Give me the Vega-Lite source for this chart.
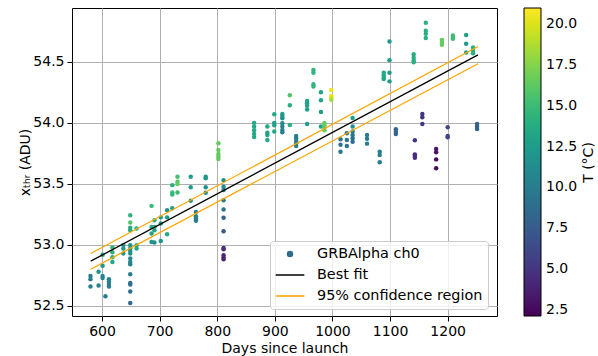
{
  "$schema": "https://vega.github.io/schema/vega-lite/v6.json",
  "width": 425,
  "height": 308,
  "autosize": {"type": "none"},
  "padding": {"left": 72, "top": 8, "right": 101, "bottom": 40},
  "background": "white",
  "config": {
    "font": "DejaVu Sans",
    "view": {"stroke": "black", "strokeWidth": 1},
    "axis": {
      "labelFontSize": 14, "titleFontSize": 14, "titleFontWeight": "normal",
      "labelColor": "black", "titleColor": "black", "tickColor": "black",
      "tickSize": 5, "tickWidth": 1, "gridColor": "#b0b0b0", "gridWidth": 1,
      "domain": false, "labelPadding": 3, "labelFlush": false
    }
  },
  "resolve": {"axis": {"y": "independent"}},
  "datasets": {
    "pts": [
      {"day":580,"xthr":52.745,"T":10},{"day":580,"xthr":52.72,"T":10},{"day":580,"xthr":52.66,"T":10},
      {"day":594,"xthr":52.78,"T":11.5},{"day":594,"xthr":52.667,"T":10.5},
      {"day":601,"xthr":52.92,"T":13},{"day":601,"xthr":52.83,"T":12},{"day":601,"xthr":52.745,"T":10.5},{"day":601,"xthr":52.73,"T":10.5},
      {"day":606,"xthr":52.58,"T":10},
      {"day":612,"xthr":52.72,"T":10.5},{"day":612,"xthr":52.70,"T":10.5},{"day":612,"xthr":52.68,"T":10},{"day":612,"xthr":52.66,"T":10},
      {"day":618,"xthr":52.98,"T":14.5},{"day":618,"xthr":52.94,"T":14},{"day":618,"xthr":52.90,"T":14},{"day":618,"xthr":52.86,"T":13.5},
      {"day":637,"xthr":53.00,"T":12},{"day":637,"xthr":52.97,"T":12},{"day":637,"xthr":52.93,"T":12},
      {"day":649,"xthr":53.244,"T":14.5},{"day":649,"xthr":53.184,"T":16},{"day":649,"xthr":53.14,"T":14},{"day":649,"xthr":53.121,"T":13.5},
      {"day":649,"xthr":52.998,"T":12},{"day":649,"xthr":52.971,"T":12},{"day":649,"xthr":52.951,"T":11.5},{"day":649,"xthr":52.93,"T":11.5},
      {"day":649,"xthr":52.889,"T":11},{"day":649,"xthr":52.861,"T":11},{"day":649,"xthr":52.842,"T":10.5},{"day":649,"xthr":52.76,"T":10},
      {"day":649,"xthr":52.689,"T":9},{"day":649,"xthr":52.676,"T":9},{"day":649,"xthr":52.618,"T":9},{"day":649,"xthr":52.525,"T":8.5},
      {"day":660,"xthr":53.135,"T":14},{"day":660,"xthr":52.998,"T":14},{"day":660,"xthr":52.971,"T":13.5},
      {"day":686,"xthr":53.32,"T":15},{"day":686,"xthr":53.148,"T":13.5},{"day":686,"xthr":53.094,"T":13},{"day":686,"xthr":53.025,"T":12},
      {"day":691,"xthr":53.203,"T":14},{"day":691,"xthr":53.148,"T":13.5},{"day":691,"xthr":53.121,"T":13},{"day":691,"xthr":53.02,"T":11.5},
      {"day":702,"xthr":53.226,"T":12.5},{"day":702,"xthr":53.176,"T":12.5},{"day":702,"xthr":53.033,"T":12},
      {"day":713,"xthr":53.285,"T":11.5},{"day":713,"xthr":53.226,"T":12},{"day":713,"xthr":53.088,"T":13.5},
      {"day":722,"xthr":53.49,"T":14},{"day":722,"xthr":53.43,"T":15},{"day":722,"xthr":53.414,"T":14.5},{"day":722,"xthr":53.30,"T":12.5},
      {"day":731,"xthr":53.559,"T":15.5},{"day":731,"xthr":53.518,"T":16},{"day":731,"xthr":53.499,"T":16.5},{"day":731,"xthr":53.43,"T":15},
      {"day":754,"xthr":53.559,"T":12.5},{"day":754,"xthr":53.472,"T":12.5},{"day":754,"xthr":53.362,"T":12},
      {"day":763,"xthr":53.27,"T":10},{"day":763,"xthr":53.236,"T":10},{"day":763,"xthr":53.217,"T":10},{"day":763,"xthr":53.198,"T":10},
      {"day":780,"xthr":53.559,"T":12},{"day":780,"xthr":53.546,"T":12},{"day":780,"xthr":53.472,"T":11.5},{"day":780,"xthr":53.428,"T":11.5},
      {"day":802,"xthr":53.833,"T":16.5},{"day":802,"xthr":53.778,"T":16.5},{"day":802,"xthr":53.745,"T":16.5},{"day":802,"xthr":53.723,"T":16.5},{"day":802,"xthr":53.704,"T":16.5},
      {"day":811,"xthr":53.53,"T":11.5},{"day":811,"xthr":53.477,"T":11},{"day":811,"xthr":53.45,"T":10.5},{"day":811,"xthr":53.367,"T":10},
      {"day":811,"xthr":53.29,"T":9.5},{"day":811,"xthr":53.222,"T":8},{"day":811,"xthr":53.113,"T":7},{"day":811,"xthr":52.976,"T":4.5},
      {"day":811,"xthr":52.965,"T":4.5},{"day":811,"xthr":52.916,"T":4},{"day":811,"xthr":52.897,"T":4},{"day":811,"xthr":52.883,"T":4},
      {"day":864,"xthr":54.0,"T":13.5},{"day":864,"xthr":53.97,"T":13.5},{"day":864,"xthr":53.94,"T":13.5},{"day":864,"xthr":53.91,"T":13.5},{"day":864,"xthr":53.885,"T":13.5},
      {"day":887,"xthr":53.97,"T":13.5},{"day":887,"xthr":53.92,"T":13},{"day":887,"xthr":53.90,"T":13},{"day":887,"xthr":53.86,"T":13.5},
      {"day":899,"xthr":54.07,"T":13.5},{"day":899,"xthr":54.0,"T":13},{"day":899,"xthr":53.98,"T":13},{"day":899,"xthr":53.93,"T":13.5},
      {"day":913,"xthr":54.073,"T":13},{"day":913,"xthr":54.057,"T":12},{"day":913,"xthr":54.038,"T":11.5},{"day":913,"xthr":53.997,"T":11},
      {"day":913,"xthr":53.97,"T":10.5},{"day":913,"xthr":53.942,"T":10.5},{"day":913,"xthr":53.923,"T":10},
      {"day":926,"xthr":54.227,"T":16},{"day":926,"xthr":54.145,"T":14},{"day":926,"xthr":53.983,"T":14},
      {"day":937,"xthr":53.893,"T":10},{"day":937,"xthr":53.874,"T":10},{"day":937,"xthr":53.852,"T":10},{"day":937,"xthr":53.833,"T":10},{"day":937,"xthr":53.811,"T":10},
      {"day":956,"xthr":54.18,"T":13},{"day":956,"xthr":54.16,"T":13},{"day":956,"xthr":54.14,"T":13},{"day":956,"xthr":54.11,"T":13},{"day":956,"xthr":53.99,"T":12.5},
      {"day":967,"xthr":54.434,"T":14.5},{"day":967,"xthr":54.41,"T":14.5},{"day":967,"xthr":54.317,"T":14.5},{"day":967,"xthr":54.297,"T":14.5},
      {"day":980,"xthr":54.25,"T":13},{"day":980,"xthr":54.186,"T":13},{"day":980,"xthr":54.09,"T":12.5},{"day":980,"xthr":53.97,"T":13},
      {"day":986,"xthr":54.0,"T":16.5},{"day":986,"xthr":53.98,"T":16.5},{"day":986,"xthr":53.96,"T":16.5},{"day":986,"xthr":53.94,"T":16.5},
      {"day":998,"xthr":54.27,"T":20.5},{"day":998,"xthr":54.22,"T":20.5},{"day":998,"xthr":54.21,"T":20},{"day":998,"xthr":54.19,"T":18.5},
      {"day":1014,"xthr":53.866,"T":9.5},{"day":1014,"xthr":53.82,"T":9.5},{"day":1014,"xthr":53.764,"T":9.5},
      {"day":1025,"xthr":53.915,"T":9.5},{"day":1025,"xthr":53.86,"T":9.5},{"day":1025,"xthr":53.81,"T":9.5},
      {"day":1035,"xthr":54.04,"T":13},{"day":1035,"xthr":53.97,"T":11.5},{"day":1035,"xthr":53.93,"T":10},{"day":1035,"xthr":53.90,"T":9.5},{"day":1035,"xthr":53.874,"T":9},{"day":1035,"xthr":53.846,"T":9},
      {"day":1060,"xthr":53.90,"T":10},{"day":1060,"xthr":53.87,"T":10},{"day":1060,"xthr":53.83,"T":10},
      {"day":1082,"xthr":53.764,"T":10},{"day":1082,"xthr":53.737,"T":10},{"day":1082,"xthr":53.677,"T":10},
      {"day":1089,"xthr":54.41,"T":13.5},{"day":1089,"xthr":54.39,"T":13.5},{"day":1089,"xthr":54.37,"T":13.5},{"day":1089,"xthr":54.36,"T":13.5},
      {"day":1099,"xthr":54.667,"T":12.5},{"day":1099,"xthr":54.514,"T":12.5},{"day":1099,"xthr":54.41,"T":12.5},{"day":1099,"xthr":54.34,"T":12.5},
      {"day":1110,"xthr":53.948,"T":8},{"day":1110,"xthr":53.928,"T":8},{"day":1110,"xthr":53.909,"T":8},
      {"day":1141,"xthr":54.563,"T":14},{"day":1141,"xthr":54.534,"T":14},{"day":1141,"xthr":54.51,"T":14},{"day":1141,"xthr":54.497,"T":14},
      {"day":1143,"xthr":53.857,"T":5},{"day":1143,"xthr":53.742,"T":4.5},{"day":1143,"xthr":53.729,"T":4.5},{"day":1143,"xthr":53.715,"T":4.5},
      {"day":1156,"xthr":54.073,"T":5},{"day":1156,"xthr":54.046,"T":5},{"day":1156,"xthr":53.99,"T":5},
      {"day":1162,"xthr":54.82,"T":14},{"day":1162,"xthr":54.755,"T":14},{"day":1162,"xthr":54.73,"T":14},{"day":1162,"xthr":54.695,"T":14},
      {"day":1180,"xthr":53.786,"T":3},{"day":1180,"xthr":53.759,"T":3},{"day":1180,"xthr":53.701,"T":2.5},{"day":1180,"xthr":53.628,"T":2.5},
      {"day":1190,"xthr":54.68,"T":16.5},{"day":1190,"xthr":54.66,"T":16.5},{"day":1190,"xthr":54.64,"T":16.5},
      {"day":1200,"xthr":53.964,"T":6},{"day":1200,"xthr":53.893,"T":6},{"day":1200,"xthr":53.882,"T":6},
      {"day":1209,"xthr":54.716,"T":15},{"day":1209,"xthr":54.70,"T":15},{"day":1209,"xthr":54.69,"T":15},
      {"day":1232,"xthr":54.72,"T":13},{"day":1232,"xthr":54.648,"T":12.5},{"day":1232,"xthr":54.576,"T":13},
      {"day":1244,"xthr":54.617,"T":14},{"day":1244,"xthr":54.59,"T":14},{"day":1244,"xthr":54.57,"T":14},
      {"day":1251,"xthr":53.99,"T":8},{"day":1251,"xthr":53.97,"T":8},{"day":1251,"xthr":53.95,"T":8}
    ],
    "fit": [
      {"day":580.4,"xthr":52.867,"series":"Best fit","line":"fit"},
      {"day":1252.6,"xthr":54.557,"series":"Best fit","line":"fit"},
      {"day":580.4,"xthr":52.930,"series":"95% confidence region","line":"upper"},
      {"day":1252.6,"xthr":54.626,"series":"95% confidence region","line":"upper"},
      {"day":580.4,"xthr":52.801,"series":"95% confidence region","line":"lower"},
      {"day":1252.6,"xthr":54.484,"series":"95% confidence region","line":"lower"}
    ]
  },
  "encoding": {
    "x": {"field": "day", "type": "quantitative",
      "scale": {"domain": [547.9, 1285.6], "nice": false, "zero": false},
      "axis": {"values": [600,700,800,900,1000,1100,1200], "format": "d", "title": "Days since launch", "titlePadding": 3}}
  },
  "layer": [
    {
      "data": {"name": "pts"},
      "mark": {"type": "circle", "size": 20, "opacity": 1},
      "encoding": {
        "y": {"field": "xthr", "type": "quantitative",
          "scale": {"domain": [52.418, 54.941], "nice": false, "zero": false},
          "axis": {"values": [52.5,53.0,53.5,54.0,54.5], "format": ".1f", "title": "xₜₕᵣ (ADU)",
            "titleX": -47, "titleBaseline": "middle"}},
        "fill": {"field": "T", "type": "quantitative",
          "scale": {"scheme": "viridis", "domain": [2.13, 20.98]},
          "legend": {
            "orient": "none", "legendX": 452, "legendY": 0, "direction": "vertical",
            "gradientLength": 308, "gradientThickness": 17,
            "gradientStrokeColor": "black", "gradientStrokeWidth": 1,
            "values": [2.5,5,7.5,10,12.5,15,17.5,20], "format": ".1f",
            "labelFontSize": 14, "labelColor": "black", "labelOffset": 5, "labelOverlap": false,
            "title": null
          }
        }
      }
    },
    {
      "data": {"name": "fit"},
      "mark": {"type": "line", "strokeWidth": 1.3},
      "encoding": {
        "y": {"field": "xthr", "type": "quantitative",
          "scale": {"domain": [52.418, 54.941], "nice": false, "zero": false},
          "axis": {"orient": "right", "title": "T (°C)", "labels": false, "ticks": false, "grid": false, "domain": false,
            "titleX": 91, "titleY": 154, "titleAngle": 270, "titleAlign": "center", "titleBaseline": "middle"}},
        "detail": {"field": "line", "type": "nominal"},
        "stroke": {"field": "series", "type": "nominal",
          "scale": {"domain": ["GRBAlpha ch0", "Best fit", "95% confidence region"], "range": ["#2f6b8e", "black", "orange"]},
          "legend": {
            "orient": "none", "legendX": 198, "legendY": 233, "title": null,
            "symbolType": "stroke", "symbolSize": 820, "symbolStrokeWidth": 1.3,
            "labelFontSize": 14.4, "labelColor": "black", "labelOffset": 12, "labelLimit": 400,
            "clipHeight": 16, "rowPadding": 5, "padding": 5,
            "fillColor": "rgba(255,255,255,0.8)", "strokeColor": "#cccccc", "cornerRadius": 3,
            "encode": {"symbols": {"update": {
              "shape": {"signal": "datum.value == 'GRBAlpha ch0' ? 'M0.18,0A0.18,0.18,0,1,1,-0.18,0A0.18,0.18,0,1,1,0.18,0Z' : 'stroke'"},
              "fill": {"value": "#2f6b8e"}
            }}}
          }
        }
      }
    }
  ]
}
